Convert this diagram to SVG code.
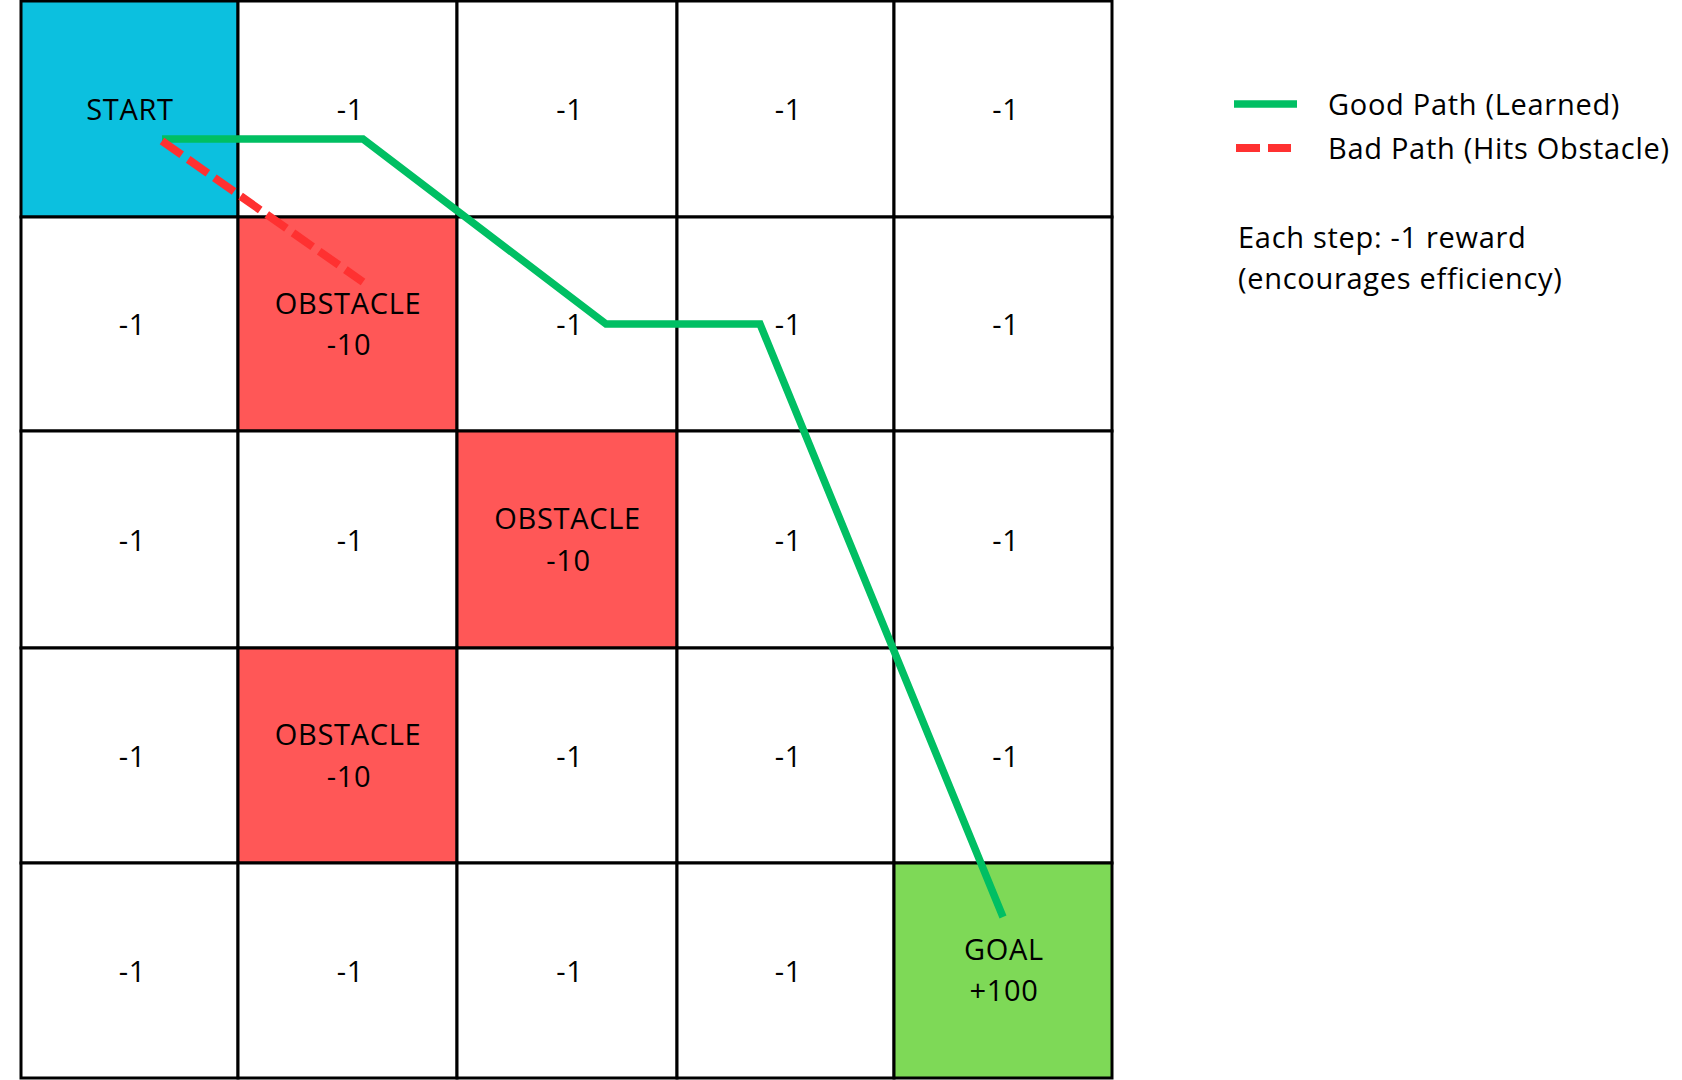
<svg xmlns="http://www.w3.org/2000/svg" width="1682" height="1080" viewBox="0 0 1682 1080">
<style>
.cell{fill:#ffffff;stroke:#000000;stroke-width:3}
.start{fill:#0cc0df}
.obst{fill:#ff5757}
.goal{fill:#7ed957}
text{font-family:"Open Sans","Noto Sans","DejaVu Sans",sans-serif;font-size:29px;fill:#000000;letter-spacing:0.7px}
.c{text-anchor:middle}
.good{fill:none;stroke:#00bf63;stroke-width:7.5;stroke-linejoin:miter}
.bad{fill:none;stroke:#ff3131;stroke-width:8;stroke-dasharray:24 8}
</style>
<rect width="1682" height="1080" fill="#ffffff"/>
<g id="grid">
<g id="cell-0-0"><rect class="cell start" x="21" y="1" width="217" height="216"/><text class="c" x="130" y="120">START</text></g>
<g id="cell-0-1"><rect class="cell" x="238" y="1" width="219" height="216"/><text class="c" x="350.5" y="120">-1</text></g>
<g id="cell-0-2"><rect class="cell" x="457" y="1" width="220" height="216"/><text class="c" x="570" y="120">-1</text></g>
<g id="cell-0-3"><rect class="cell" x="677" y="1" width="217" height="216"/><text class="c" x="788.5" y="120">-1</text></g>
<g id="cell-0-4"><rect class="cell" x="894" y="1" width="218" height="216"/><text class="c" x="1006" y="120">-1</text></g>

<g id="cell-1-0"><rect class="cell" x="21" y="217" width="217" height="214"/><text class="c" x="132.5" y="335">-1</text></g>
<g id="cell-1-1"><rect class="cell obst" x="238" y="217" width="219" height="214"/><text class="c" x="348" y="313.5">OBSTACLE</text><text class="c" x="349" y="355">-10</text></g>
<g id="cell-1-2"><rect class="cell" x="457" y="217" width="220" height="214"/><text class="c" x="570" y="335">-1</text></g>
<g id="cell-1-3"><rect class="cell" x="677" y="217" width="217" height="214"/><text class="c" x="788.5" y="335">-1</text></g>
<g id="cell-1-4"><rect class="cell" x="894" y="217" width="218" height="214"/><text class="c" x="1006" y="335">-1</text></g>

<g id="cell-2-0"><rect class="cell" x="21" y="431" width="217" height="217"/><text class="c" x="132.5" y="550.5">-1</text></g>
<g id="cell-2-1"><rect class="cell" x="238" y="431" width="219" height="217"/><text class="c" x="350.5" y="550.5">-1</text></g>
<g id="cell-2-2"><rect class="cell obst" x="457" y="431" width="220" height="217"/><text class="c" x="567.5" y="529">OBSTACLE</text><text class="c" x="568.5" y="570.5">-10</text></g>
<g id="cell-2-3"><rect class="cell" x="677" y="431" width="217" height="217"/><text class="c" x="788.5" y="550.5">-1</text></g>
<g id="cell-2-4"><rect class="cell" x="894" y="431" width="218" height="217"/><text class="c" x="1006" y="550.5">-1</text></g>

<g id="cell-3-0"><rect class="cell" x="21" y="648" width="217" height="215"/><text class="c" x="132.5" y="766.5">-1</text></g>
<g id="cell-3-1"><rect class="cell obst" x="238" y="648" width="219" height="215"/><text class="c" x="348" y="745">OBSTACLE</text><text class="c" x="349" y="786.5">-10</text></g>
<g id="cell-3-2"><rect class="cell" x="457" y="648" width="220" height="215"/><text class="c" x="570" y="766.5">-1</text></g>
<g id="cell-3-3"><rect class="cell" x="677" y="648" width="217" height="215"/><text class="c" x="788.5" y="766.5">-1</text></g>
<g id="cell-3-4"><rect class="cell" x="894" y="648" width="218" height="215"/><text class="c" x="1006" y="766.5">-1</text></g>

<g id="cell-4-0"><rect class="cell" x="21" y="863" width="217" height="215"/><text class="c" x="132.5" y="981.5">-1</text></g>
<g id="cell-4-1"><rect class="cell" x="238" y="863" width="219" height="215"/><text class="c" x="350.5" y="981.5">-1</text></g>
<g id="cell-4-2"><rect class="cell" x="457" y="863" width="220" height="215"/><text class="c" x="570" y="981.5">-1</text></g>
<g id="cell-4-3"><rect class="cell" x="677" y="863" width="217" height="215"/><text class="c" x="788.5" y="981.5">-1</text></g>
<g id="cell-4-4"><rect class="cell goal" x="894" y="863" width="218" height="215"/><text class="c" x="1004" y="960">GOAL</text><text class="c" x="1004" y="1001">+100</text></g>
</g>
<g id="connectors">
<path class="good" d="M162,139 L363,139 L606,324 L760,324 L1003,917"/>
<path class="bad" d="M162,141 L363,282"/>
</g>
<g id="legend">
<line class="good" x1="1234" y1="104" x2="1297" y2="104"/>
<text x="1328" y="115">Good Path (Learned)</text>
<line class="bad" x1="1236" y1="148" x2="1291" y2="148"/>
<text x="1328" y="159">Bad Path (Hits Obstacle)</text>
<text x="1238" y="248">Each step: -1 reward</text>
<text x="1238" y="289">(encourages efficiency)</text>
</g>
</svg>
